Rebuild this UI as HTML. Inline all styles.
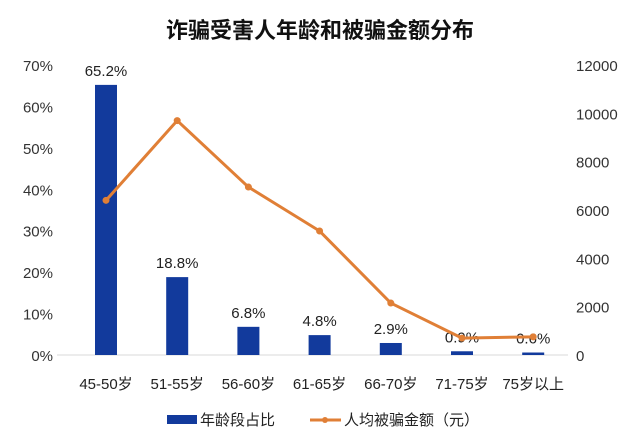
<!DOCTYPE html>
<html><head><meta charset="utf-8"><style>
body{margin:0;background:#fff;}
svg{display:block;font-family:"Liberation Sans","Noto Sans CJK SC",sans-serif;}
</style></head><body>
<svg id="c" width="640" height="448">
<text x="320" y="38" text-anchor="middle" font-size="22" font-weight="bold" fill="#111">诈骗受害人年龄和被骗金额分布</text>
<line x1="57" y1="355" x2="568" y2="355" stroke="#d9d9d9"/>
<g id="g"></g>
<g>
<rect x="167" y="415" width="30" height="9" fill="#123a9c"/>
<text x="200" y="425" font-size="15" fill="#222">年龄段占比</text>
<line x1="310" y1="420" x2="341" y2="420" stroke="#e07f36" stroke-width="3"/>
<circle cx="325" cy="420" r="3" fill="#e07f36"/>
<text x="344" y="425" font-size="15" fill="#222">人均被骗金额（元）</text>
</g>
</svg>
<script>
const categories=["45-50岁","51-55岁","56-60岁","61-65岁","66-70岁","71-75岁","75岁以上"];
const shares=[65.2,18.8,6.8,4.8,2.9,0.9,0.6];
const amounts=[6400,9700,6950,5130,2150,700,750];
const leftTicks=[0,10,20,30,40,50,60,70];
const rightTicks=[0,2000,4000,6000,8000,10000,12000];
const NS="http://www.w3.org/2000/svg";
const g=document.getElementById('g');
const topY=65,botY=355;
const yL=v=>botY-(v/70)*(botY-topY);
const yR=v=>botY-(v/12000)*(botY-topY);
const xC=i=>106+i*71.2;
function mk(t,a){const e=document.createElementNS(NS,t);for(const k in a)e.setAttribute(k,a[k]);g.appendChild(e);return e;}
leftTicks.forEach(v=>{const t=mk('text',{x:53,y:yL(v)+6,'text-anchor':'end','font-size':15,fill:'#333'});t.textContent=v+'%';

});
rightTicks.forEach(v=>{const t=mk('text',{x:576,y:yR(v)+6,'font-size':15,fill:'#333'});t.textContent=v;

});
categories.forEach((c,i)=>{
const r=mk('rect',{x:xC(i)-11,y:yL(shares[i]),width:22,height:botY-yL(shares[i]),fill:'#123a9c'});


const l=mk('text',{x:xC(i),y:yL(shares[i])-9,'text-anchor':'middle','font-size':15,fill:'#222'});l.textContent=shares[i]+'%';


const x=mk('text',{x:xC(i),y:389,'text-anchor':'middle','font-size':15,fill:'#222'});x.textContent=c;


});
const pl=mk('polyline',{points:amounts.map((v,i)=>xC(i)+','+yR(v)).join(' '),fill:'none',stroke:'#e07f36','stroke-width':3});


amounts.forEach((v,i)=>{const p=mk('circle',{cx:xC(i),cy:yR(v),r:3.5,fill:'#e07f36'});

});
</script>
</body></html>
